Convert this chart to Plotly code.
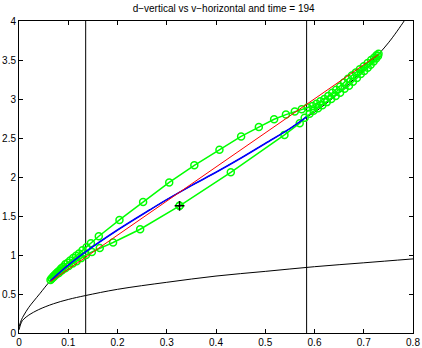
import plotly.graph_objects as go

title_text = "d\u2212vertical vs v\u2212horizontal and time = 194"

# upper black curve
up_x = [0, 0.005, 0.01, 0.02, 0.03, 0.043, 0.064, 0.1, 0.135, 0.2, 0.266, 0.3, 0.35, 0.4, 0.45, 0.5, 0.55, 0.584, 0.6, 0.65, 0.713, 0.75, 0.782, 0.79]
up_y = [0.08, 0.17, 0.23, 0.33, 0.41, 0.51, 0.67, 0.87, 1.04, 1.32, 1.58, 1.71, 1.89, 2.06, 2.24, 2.43, 2.62, 2.77, 2.83, 3.08, 3.46, 3.72, 4.0, 4.08]

# lower black curve
lo_x = [0, 0.005, 0.01, 0.02, 0.04, 0.07, 0.1, 0.135, 0.2, 0.3, 0.4, 0.5, 0.6, 0.7, 0.8]
lo_y = [0.04, 0.14, 0.18, 0.23, 0.30, 0.375, 0.43, 0.48, 0.56, 0.65, 0.73, 0.79, 0.85, 0.90, 0.95]

# blue curve
bl_x = [0.064, 0.1, 0.135, 0.2, 0.266, 0.3, 0.35, 0.4, 0.45, 0.5, 0.55, 0.584]
bl_y = [0.67, 0.87, 1.04, 1.32, 1.58, 1.71, 1.89, 2.06, 2.24, 2.43, 2.62, 2.77]

# red chord
rd_x = [0.064, 0.73]
rd_y = [0.66, 3.57]

# vertical lines
vlines = [0.1354, 0.584]

# green trajectory
gr_x = [0.326, 0.246, 0.191, 0.164, 0.148, 0.136, 0.126, 0.117, 0.109, 0.101, 0.094, 0.087,
        0.081, 0.076, 0.071, 0.067, 0.064,
        0.066, 0.069, 0.072, 0.075, 0.078, 0.082, 0.086, 0.09, 0.094, 0.099, 0.104, 0.11,
        0.116, 0.122, 0.129, 0.137, 0.146, 0.162,
        0.204, 0.252, 0.305, 0.356, 0.407, 0.451, 0.487, 0.518, 0.542, 0.56, 0.574, 0.586,
        0.596, 0.604, 0.612, 0.62, 0.628, 0.636, 0.644, 0.652, 0.66, 0.668, 0.676, 0.684,
        0.692, 0.70, 0.708, 0.715, 0.721, 0.726, 0.73,
        0.729, 0.725, 0.72, 0.714, 0.708, 0.701, 0.694, 0.686, 0.678, 0.67, 0.661, 0.652,
        0.643, 0.634, 0.625, 0.616, 0.607, 0.598, 0.59, 0.58, 0.57, 0.539, 0.43, 0.326]
gr_y = [1.63, 1.33, 1.16, 1.09, 1.04, 1.00, 0.96, 0.92, 0.89, 0.86, 0.83, 0.80,
        0.77, 0.75, 0.72, 0.70, 0.68,
        0.70, 0.72, 0.74, 0.76, 0.78, 0.80, 0.83, 0.85, 0.88, 0.90, 0.93, 0.96,
        0.99, 1.02, 1.06, 1.10, 1.15, 1.24,
        1.45, 1.68, 1.93, 2.15, 2.35, 2.52, 2.64, 2.74, 2.80, 2.84, 2.87, 2.89,
        2.91, 2.94, 2.97, 3.00, 3.04, 3.08, 3.12, 3.16, 3.21, 3.26, 3.30, 3.34,
        3.38, 3.42, 3.46, 3.50, 3.53, 3.56, 3.58,
        3.55, 3.52, 3.48, 3.44, 3.40, 3.36, 3.32, 3.27, 3.22, 3.17, 3.13, 3.08,
        3.04, 3.00, 2.96, 2.92, 2.88, 2.85, 2.81, 2.76, 2.69, 2.54, 2.06, 1.63]

cur_x = [0.326]
cur_y = [1.63]

x_ticks = [0, 0.1, 0.2, 0.3, 0.4, 0.5, 0.6, 0.7, 0.8]
y_ticks = [0, 0.5, 1, 1.5, 2, 2.5, 3, 3.5, 4]

fig = go.Figure()
fig.add_trace(go.Scatter(x=up_x, y=up_y, mode="lines", line=dict(color="black", width=1), line_shape="spline"))
fig.add_trace(go.Scatter(x=lo_x, y=lo_y, mode="lines", line=dict(color="black", width=1), line_shape="spline"))
for v in vlines:
    fig.add_trace(go.Scatter(x=[v, v], y=[0, 4], mode="lines", line=dict(color="black", width=1)))
fig.add_trace(go.Scatter(x=gr_x, y=gr_y, mode="lines+markers",
                         line=dict(color="#00ff00", width=1.5),
                         marker=dict(symbol="circle-open", size=7, color="#00ff00", line=dict(width=1.5))))
fig.add_trace(go.Scatter(x=bl_x, y=bl_y, mode="lines", line=dict(color="#0000ff", width=1.6), line_shape="spline"))
fig.add_trace(go.Scatter(x=rd_x, y=rd_y, mode="lines", line=dict(color="#ff0000", width=1)))
fig.add_trace(go.Scatter(x=cur_x, y=cur_y, mode="markers",
                         marker=dict(symbol="cross-thin-open", size=7, color="black", line=dict(width=1.5, color="black"))))

axis_common = dict(showgrid=False, zeroline=False, showline=True, linecolor="black", linewidth=1,
                   mirror="ticks", ticks="inside", ticklen=4, tickcolor="black", automargin=False,
                   tickfont=dict(family="Liberation Sans, Arial, sans-serif", size=10, color="black"))
fig.update_xaxes(range=[0, 0.8], tickvals=x_ticks, ticktext=[f"{t:g}" for t in x_ticks], **axis_common)
fig.update_yaxes(range=[0, 4], tickvals=y_ticks, ticktext=[f"{t:g}" for t in y_ticks], **axis_common)
fig.update_layout(
    width=422, height=348, showlegend=False,
    margin=dict(l=19, r=9, t=21, b=15),
    plot_bgcolor="white", paper_bgcolor="white",
    title=dict(text=title_text, x=0.53, xanchor="center", y=0.985, yanchor="top",
               font=dict(family="Liberation Sans, Arial, sans-serif", size=10, color="black")),
)
fig.write_html("out.html")
